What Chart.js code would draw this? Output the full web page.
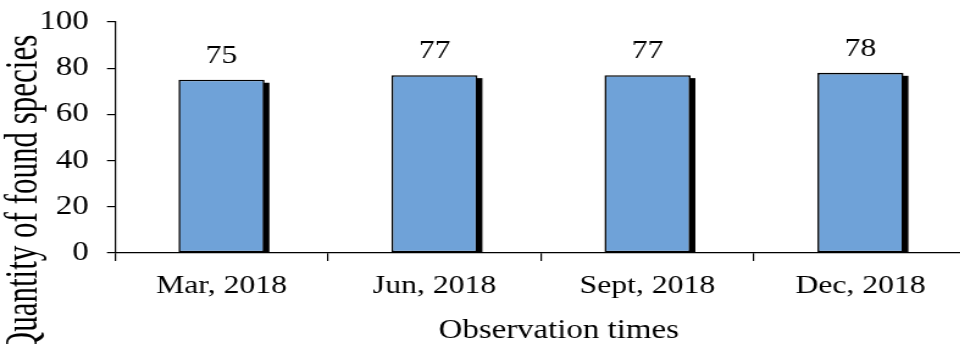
<!DOCTYPE html>
<html>
<head>
<meta charset="utf-8">
<script src="https://cdn.jsdelivr.net/npm/chart.js@4/dist/chart.umd.min.js"></script>
<style>
  html, body { margin: 0; padding: 0; background: #fff; overflow: hidden; width: 960px; height: 344px; }
  /* the figure is set in a wide serif face: the drawing is stretched sideways */
  #c { position: absolute; left: 0; top: 0; transform: scaleX(1.22); transform-origin: 0 0; }
</style>
</head>
<body>
<canvas id="c" width="800" height="344"></canvas>
<script>
const categories = ['Mar, 2018', 'Jun, 2018', 'Sept, 2018', 'Dec, 2018'];
const speciesCounts = [75, 77, 77, 78];
const yTicks = [0, 20, 40, 60, 80, 100];
const xTitle = 'Observation times';
const yTitle = 'Quantity of found species';

const SERIF = '"Liberation Serif", "Times New Roman", serif';

// dark offset shadow on the right of each bar
const barShadow = {
  id: 'barShadow',
  beforeDatasetsDraw(chart) {
    const ctx = chart.ctx;
    ctx.save();
    ctx.fillStyle = '#000';
    chart.getDatasetMeta(0).data.forEach(bar => {
      const right = bar.x + bar.width / 2;
      ctx.fillRect(right - 1, bar.y + 3, 5, bar.base - bar.y - 3);
    });
    ctx.restore();
  }
};

// value printed above each bar
const valueLabels = {
  id: 'valueLabels',
  afterDatasetsDraw(chart) {
    const ctx = chart.ctx;
    const values = chart.data.datasets[0].data;
    ctx.save();
    ctx.fillStyle = '#000';
    ctx.font = '26px ' + SERIF;
    ctx.textAlign = 'center';
    ctx.textBaseline = 'alphabetic';
    chart.getDatasetMeta(0).data.forEach((bar, i) => {
      ctx.fillText(String(values[i]), bar.x, bar.y - 17);
    });
    ctx.restore();
  }
};

// axis titles
const axisTitles = {
  id: 'axisTitles',
  afterDraw(chart) {
    const ctx = chart.ctx;
    ctx.save();
    ctx.fillStyle = '#000';
    ctx.textAlign = 'center';
    ctx.textBaseline = 'alphabetic';
    ctx.font = '27px ' + SERIF;
    ctx.fillText(xTitle, 458, 338);

    ctx.translate(29.5, 194.5);
    ctx.rotate(-Math.PI / 2);
    ctx.scale(1, 1.2);
    ctx.font = '31px ' + SERIF;
    ctx.fillText(yTitle, 0, 0);
    ctx.restore();
  }
};

new Chart(document.getElementById('c'), {
  type: 'bar',
  data: {
    labels: categories,
    datasets: [{
      data: speciesCounts,
      backgroundColor: '#6FA2D8',
      borderColor: '#000',
      borderWidth: 1.6,
      borderSkipped: false,
      barPercentage: 0.404,
      categoryPercentage: 1
    }]
  },
  options: {
    responsive: false,
    animation: false,
    layout: { padding: { top: 22, right: 7.4, bottom: 0, left: 0 } },
    plugins: { legend: { display: false }, tooltip: { enabled: false } },
    scales: {
      x: {
        grid: { offset: true, drawOnChartArea: false, drawTicks: true, tickLength: 8, color: '#000', lineWidth: 1.2 },
        border: { display: true, color: '#000', width: 1.2 },
        ticks: { color: '#000', font: { family: SERIF, size: 26 }, padding: 10, maxRotation: 0 },
        afterFit(scale) { scale.height = 91; scale.paddingLeft = 0; scale.paddingRight = 0; }
      },
      y: {
        min: 0,
        max: 100,
        afterBuildTicks(scale) { scale.ticks = yTicks.map(v => ({ value: v })); },
        grid: { drawOnChartArea: false, drawTicks: true, tickLength: 6.6, color: '#000', lineWidth: 1.2 },
        border: { display: true, color: '#000', width: 1.2 },
        ticks: { color: '#000', font: { family: SERIF, size: 27 }, padding: 15 },
        afterFit(scale) { scale.width = 94.26; scale.paddingTop = 0; scale.paddingBottom = 0; }
      }
    }
  },
  plugins: [barShadow, valueLabels, axisTitles]
});
</script>
</body>
</html>
